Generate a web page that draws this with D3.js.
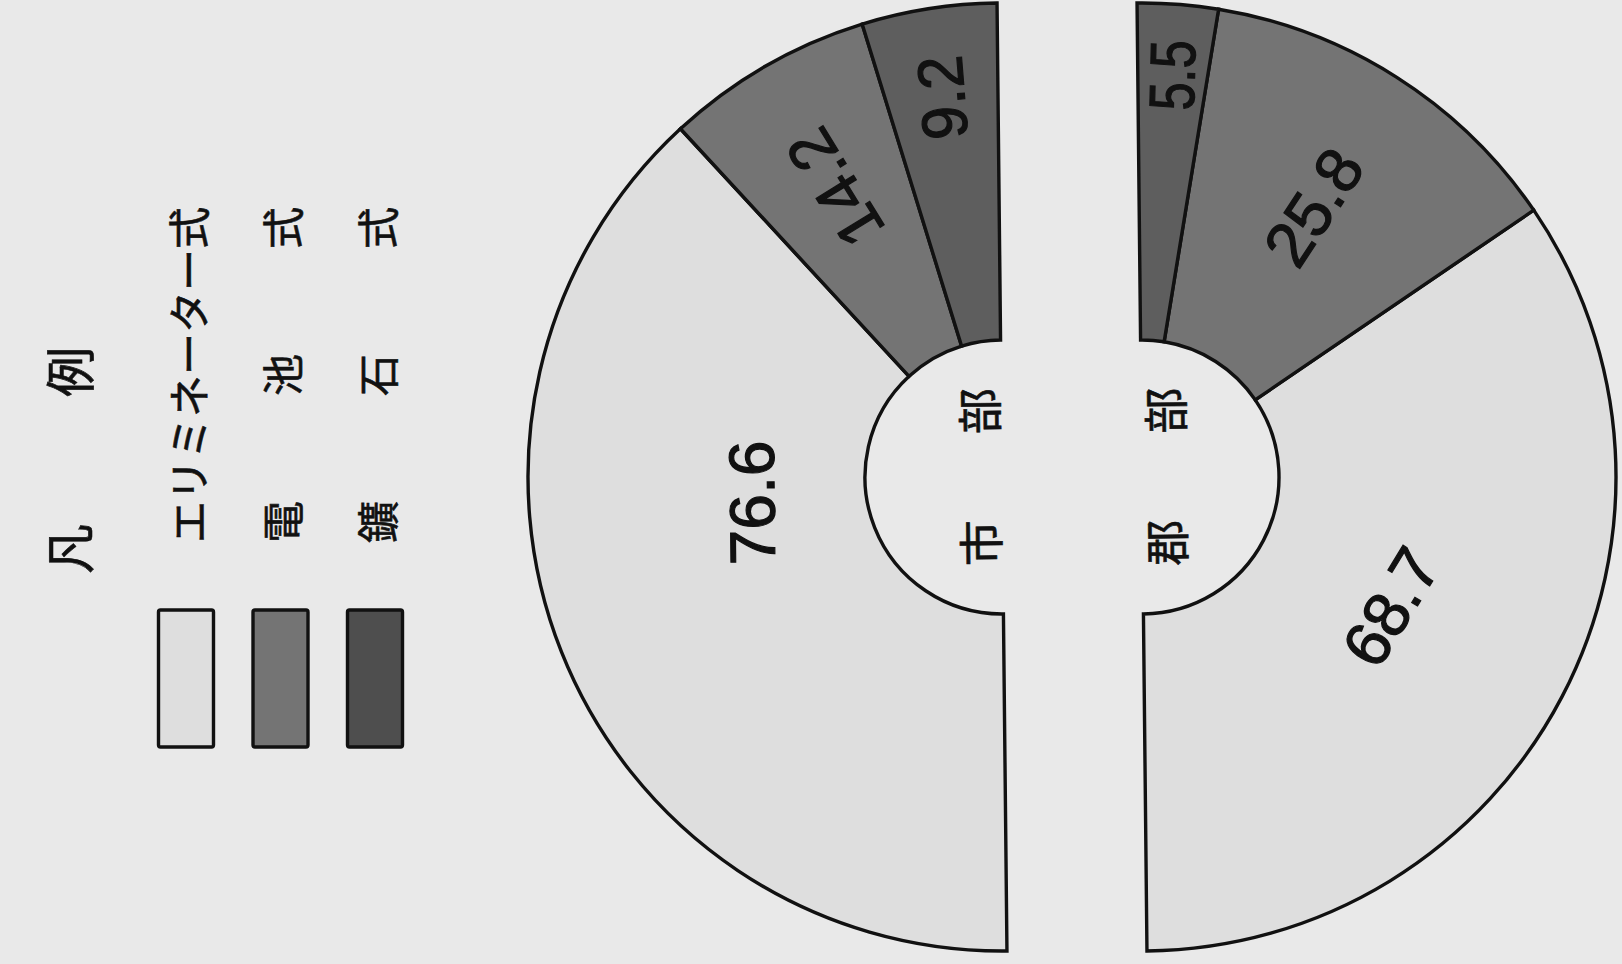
<!DOCTYPE html>
<html><head><meta charset="utf-8">
<script src="https://cdn.jsdelivr.net/npm/d3@7"></script>
<style>html,body{margin:0;padding:0;background:#e9e9e9;} svg{display:block}</style>
</head><body><svg id="c" width="1622" height="964"></svg>
<script>
// ---- data ----
const categories = ["エリミネーター式", "電池式", "鑛石式"];
const legendTitle = "凡例";
const groups = ["市部", "郡部"];
const cityValues = [76.6, 14.2, 9.2];
const countyValues = [68.7, 25.8, 5.5];

// ---- layout ----
const W = 1622, H = 964;
const svg = d3.select("#c");
svg.append("rect").attr("width", W).attr("height", H).attr("fill", "#e9e9e9");

const color = d3.scaleOrdinal().domain(categories).range(["#dedede", "#747474", "#5e5e5e"]);
const stroke = "#111";
const numFont = "'Liberation Sans', 'DejaVu Sans', sans-serif";
const jpFont = "'Noto Sans CJK JP', 'Noto Sans CJK SC', sans-serif";

const rOuter = 474, rInner = 137, cy = 477;
const arc = d3.arc().innerRadius(rInner).outerRadius(rOuter);

const donuts = [
  { name: groups[0], values: cityValues, cx: 1002, start: -Math.PI, end: 0,
    nameDx: -24,
    lab: [{t: 0.614, r: 251, rot: -90}, {t: 0.5, r: 334, rot: -121}, {t: 0.5, r: 384, rot: -94, len: 84}] },
  { name: groups[1], values: countyValues, cx: 1142, start: Math.PI, end: 0,
    nameDx: 22,
    lab: [{t: 0.5, r: 281, rot: -58}, {t: 0.5, r: 320, rot: -56}, {t: 0.5, r: 403, rot: -88, len: 70}] }
];

const fmt = d3.format(".1f");

donuts.forEach(dn => {
  const pie = d3.pie().sort(null).startAngle(dn.start).endAngle(dn.end);
  const data = categories.map((c, i) => ({ cat: c, value: dn.values[i] }));
  const arcs = pie.value(d => d.value)(data);
  const g = svg.append("g").attr("transform", `translate(${dn.cx},${cy}) rotate(-0.6)`);
  g.selectAll("path").data(arcs).join("path")
    .attr("d", arc)
    .attr("fill", d => color(d.data.cat))
    .attr("stroke", stroke)
    .attr("stroke-width", 3.4)
    .attr("stroke-linejoin", "miter");

  g.selectAll("text.num").data(arcs).join("text")
    .attr("class", "num")
    .each(function(d, i) {
      const L = dn.lab[i];
      const a = d.startAngle + (d.endAngle - d.startAngle) * L.t;
      const x = L.r * Math.sin(a), y = -L.r * Math.cos(a);
      const t = d3.select(this)
        .attr("transform", `translate(${x},${y}) rotate(${L.rot})`)
        .attr("text-anchor", "middle")
        .attr("dominant-baseline", "central")
        .attr("font-family", numFont)
        .attr("font-size", 64)
        .attr("fill", "#111")
        .attr("stroke", "#111")
        .attr("stroke-width", 1.2)
        .text(fmt(d.data.value));
      if (L.len) t.attr("textLength", L.len).attr("lengthAdjust", "spacingAndGlyphs");
    });

  g.append("text")
    .attr("transform", `translate(${dn.nameDx},0) rotate(-90)`)
    .attr("text-anchor", "middle")
    .attr("dominant-baseline", "central")
    .attr("font-family", jpFont)
    .attr("font-size", 46)
    .attr("fill", "#111")
    .attr("stroke", "#111")
    .attr("stroke-width", 0.6)
    .attr("textLength", 178)
    .attr("lengthAdjust", "spacing")
    .text(dn.name);
});

// ---- legend ----
const lx = d3.scalePoint().domain(categories).range([186, 375]);
const lg = svg.append("g");
lg.append("text")
  .attr("transform", `translate(67,574) rotate(-90)`)
  .attr("dominant-baseline", "central")
  .attr("font-family", jpFont)
  .attr("font-size", 50)
  .attr("fill", "#111")
  .attr("stroke", "#111")
  .attr("stroke-width", 0.6)
  .attr("textLength", 227)
  .attr("lengthAdjust", "spacing")
  .text(legendTitle);

const item = lg.selectAll("g.item").data(categories).join("g").attr("class", "item");
item.append("rect")
  .attr("x", d => lx(d) - 27.5)
  .attr("y", 610)
  .attr("width", 55)
  .attr("height", 137)
  .attr("rx", 2)
  .attr("fill", (d, i) => i === 2 ? "#4e4e4e" : color(d))
  .attr("stroke", stroke)
  .attr("stroke-width", 3.4);
item.append("text")
  .attr("transform", d => `translate(${lx(d)},543) rotate(-90)`)
  .attr("dominant-baseline", "central")
  .attr("font-family", jpFont)
  .attr("font-size", 42)
  .attr("fill", "#111")
  .attr("stroke", "#111")
  .attr("stroke-width", 0.6)
  .attr("textLength", 336)
  .attr("lengthAdjust", (d, i) => i === 0 ? "spacingAndGlyphs" : "spacing")
  .text(d => d);
</script>
</body></html>
